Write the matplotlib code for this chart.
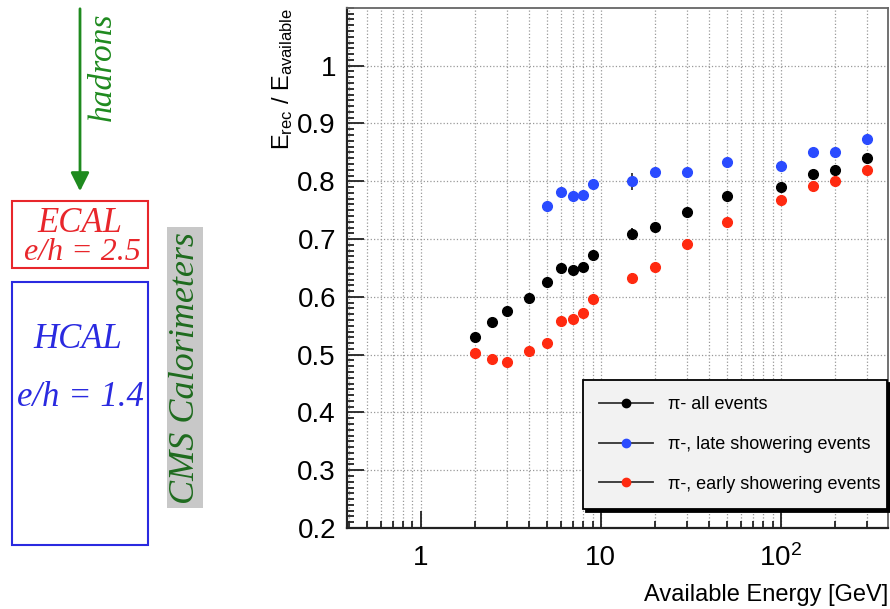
import numpy as np
import matplotlib.pyplot as plt
from matplotlib.lines import Line2D
from matplotlib.patches import Rectangle
from matplotlib.ticker import FixedLocator, FixedFormatter, MultipleLocator, LogLocator, NullFormatter

plt.rcParams['font.family'] = ['Liberation Sans', 'DejaVu Sans']
plt.rcParams['mathtext.default'] = 'regular'

# --- data ---
energy = [2, 2.5, 3, 4, 5, 6, 7, 8, 9, 15, 20, 30, 50, 100, 150, 200, 300]
resp_all = [0.531, 0.556, 0.576, 0.598, 0.626, 0.650, 0.647, 0.652, 0.672,
            0.709, 0.721, 0.746, 0.774, 0.790, 0.813, 0.819, 0.840]
err_all = [0.003, 0.003, 0.003, 0.003, 0.003, 0.003, 0.003, 0.003, 0.003,
           0.010, 0.003, 0.003, 0.003, 0.003, 0.003, 0.003, 0.003]

energy_late = [5, 6, 7, 8, 9, 15, 20, 30, 50, 100, 150, 200, 300]
resp_late = [0.757, 0.782, 0.774, 0.776, 0.796, 0.800, 0.816, 0.816, 0.834,
             0.827, 0.850, 0.851, 0.874]
err_late = [0.003, 0.003, 0.003, 0.003, 0.003, 0.015, 0.003, 0.003, 0.003,
            0.003, 0.003, 0.003, 0.003]

resp_early = [0.503, 0.493, 0.487, 0.506, 0.521, 0.559, 0.562, 0.572, 0.596,
              0.632, 0.652, 0.692, 0.730, 0.767, 0.791, 0.800, 0.819]
err_early = [0.003, 0.003, 0.003, 0.003, 0.003, 0.003, 0.003, 0.003, 0.003,
             0.010, 0.003, 0.003, 0.003, 0.003, 0.003, 0.003, 0.003]

labels = ['\u03c0- all events', '\u03c0-, late showering events', '\u03c0-, early showering events']
colors = ['#000000', '#2a4bff', '#ff2a10']

xticks = [1, 10, 100]
xticklabels = ['1', '10', '$10^{2}$']
yticks = [0.2, 0.3, 0.4, 0.5, 0.6, 0.7, 0.8, 0.9, 1.0]
yticklabels = ['0.2', '0.3', '0.4', '0.5', '0.6', '0.7', '0.8', '0.9', '1']

fig = plt.figure(figsize=(8.9, 6.09), dpi=100)

# --- left sketch of the calorimeters (pixel coordinates) ---
sk = fig.add_axes([0, 0, 1, 1])
sk.set_xlim(0, 890)
sk.set_ylim(609, 0)
sk.axis('off')
serif = dict(family='Liberation Serif', style='italic')
sk.annotate('', xy=(80, 194), xytext=(80, 6),
            arrowprops=dict(arrowstyle='-|>', color='#1f8a1f', lw=2, mutation_scale=28))
sk.text(103, 67, 'hadrons', color='#1f8a1f', fontsize=24, rotation=90,
        ha='center', va='center', **serif)
sk.add_patch(Rectangle((12, 201), 136, 67, fill=False, ec='#e8262b', lw=1.5))
sk.text(80, 223, 'ECAL', color='#e8262b', fontsize=25, ha='center', va='center', **serif)
sk.text(82, 252, 'e/h = 2.5', color='#e8262b', fontsize=23, ha='center', va='center', **serif)
sk.add_patch(Rectangle((12, 282), 136, 263, fill=False, ec='#2a2ae0', lw=1.5))
sk.text(78, 340, 'HCAL', color='#2a2ae0', fontsize=25, ha='center', va='center', **serif)
sk.text(80, 398, 'e/h = 1.4', color='#2a2ae0', fontsize=25, ha='center', va='center', **serif)
sk.add_patch(Rectangle((167, 227), 36, 281, fc='#c8c8c8', ec='none'))
sk.text(186, 368, 'CMS Calorimeters', color='#1e6b1e', fontsize=26, rotation=90,
        ha='center', va='center', **serif)

# --- main plot ---
ax = fig.add_axes([0.390, 0.133, 0.608, 0.854])
ax.set_xscale('log')
ax.set_xlim(0.39, 395)
ax.set_ylim(0.2, 1.1)

ms = 7
ax.errorbar(energy, resp_all, yerr=err_all, fmt='o', color=colors[0], ms=ms, elinewidth=1.2, capsize=0)
ax.errorbar(energy_late, resp_late, yerr=err_late, fmt='o', color=colors[1], ms=ms, elinewidth=1.2,
            ecolor='#222222', capsize=0)
ax.errorbar(energy, resp_early, yerr=err_early, fmt='o', color=colors[2], ms=ms, elinewidth=1.2,
            ecolor='#222222', capsize=0)

ax.xaxis.set_major_locator(FixedLocator(xticks))
ax.xaxis.set_major_formatter(FixedFormatter(xticklabels))
ax.xaxis.set_minor_locator(LogLocator(base=10, subs=np.arange(2, 10)))
ax.xaxis.set_minor_formatter(NullFormatter())
ax.yaxis.set_major_locator(FixedLocator(yticks))
ax.yaxis.set_major_formatter(FixedFormatter(yticklabels))
ax.yaxis.set_minor_locator(MultipleLocator(0.01))

ax.tick_params(which='both', direction='in', top=False, right=False, color='#222222', width=1.3)
ax.tick_params(which='major', length=12, labelsize=20, pad=8)
ax.tick_params(which='minor', length=5)
ax.tick_params(axis='x', which='major', pad=12)

ax.grid(axis='y', which='major', color='#999999', ls=':', lw=0.9)
ax.grid(axis='x', which='both', color='#999999', ls=':', lw=0.9)

for s in ['left', 'bottom']:
    ax.spines[s].set_color('#222222')
    ax.spines[s].set_linewidth(1.6)
for s in ['top', 'right']:
    ax.spines[s].set_color('#666666')
    ax.spines[s].set_linewidth(1.3)

ax.set_ylabel('$E_{rec}$ / $E_{available}$', fontsize=17, loc='top', labelpad=2)
ax.set_xlabel('Available Energy [GeV]', fontsize=17, loc='right', labelpad=8)

handles = [Line2D([], [], color='#333333', lw=1.3, marker='o', ms=6, mfc=c, mec=c) for c in colors]
leg = ax.legend(handles, labels, loc='lower left', bbox_to_anchor=(0.436, 0.037, 0.562, 0.244),
                mode='expand', fontsize=13, handlelength=3, frameon=True, fancybox=False,
                shadow={'color': 'black', 'alpha': 1}, borderaxespad=0, labelspacing=1.25,
                borderpad=0.9)
leg.get_frame().set_facecolor('#f2f2f2')
leg.get_frame().set_edgecolor('black')
leg.get_frame().set_linewidth(1.3)
leg.get_frame().set_alpha(1)

fig.savefig('out.png', dpi=100)
